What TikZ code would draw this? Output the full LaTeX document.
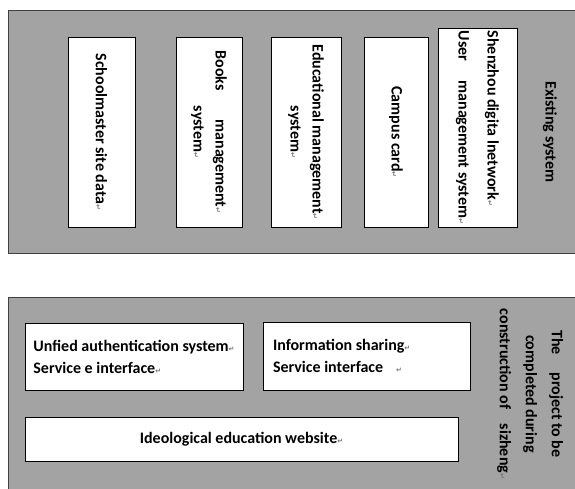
\documentclass[tikz,border=0pt]{standalone}
\usepackage{fontspec}
\setmainfont{Carlito}
\newfontfamily\symfont{DejaVu Sans}
\usetikzlibrary{positioning}
\definecolor{panelgray}{rgb}{0.64,0.64,0.64}
\definecolor{panelline}{rgb}{0.25,0.25,0.25}
\definecolor{markgray}{rgb}{0.45,0.45,0.45}
\newcommand{\parmark}{{\symfont\fontsize{7}{7}\selectfont\color{markgray}↵}}

\tikzset{
    panel/.style={draw=panelline, fill=panelgray, line width=1pt},
    sysbox/.style={draw=black, fill=white, line width=0.8pt, rotate=-90,
        inner sep=0pt, align=center, font=\bfseries\fontsize{16}{22}\selectfont},
    projbox/.style={draw=black, fill=white, line width=0.8pt,
        inner sep=0pt, font=\bfseries\fontsize{16}{22}\selectfont},
    sidelabel/.style={rotate=-90, align=center, inner sep=0pt,
        font=\bfseries\fontsize{16}{26}\selectfont}
}

\begin{document}
\begin{tikzpicture}[x=1pt, y=-1pt]
    \useasboundingbox (0,0) rectangle (575,488);
    \clip (0,0) rectangle (575,488);
    % existing system
    \draw[panel] (8,10) rectangle (590,253);
    \node[sysbox, minimum width=190, minimum height=67] (school) at (101.5,132)
        {Schoolmaster site data\parmark};
    \node[sysbox, minimum width=190, minimum height=66] (books) at (209,132)
        {Books\hspace{1.8em}management\parmark\\system\parmark};
    \node[sysbox, minimum width=190, minimum height=70] (edu) at (306,132)
        {Educational management\parmark\\system\parmark};
    \node[sysbox, minimum width=190, minimum height=64] (campus) at (396,132)
        {Campus card\parmark};
    \node[sysbox, align=flush left, minimum width=199, minimum height=79] (user) at (477.5,127.5)
        {Shenzhou digita lnetwork\parmark\\[7pt]User\hspace{1.2em}management system\parmark};
    \node[sidelabel] (existing) at (550,132) {Existing system};
    % project of sizheng
    \draw[panel] (8,297) rectangle (590,500);
    \node[projbox, minimum width=218, minimum height=67, align=flush left] (auth) at (134,356.5)
        {Unfied authentication system\parmark\\Service e interface\parmark};
    \node[projbox, minimum width=207, minimum height=68, align=flush left,
        text width=187] (share) at (366.5,356)
        {Information sharing\parmark\\Service interface\hspace{0.8em}\parmark};
    \node[projbox, minimum width=433, minimum height=44, align=center] (site) at (241.5,439)
        {Ideological education website\parmark};
    \node[sidelabel] (project) at (530,394)
        {The\hspace{1.1em}project to be\\completed during\\construction of\hspace{0.9em}sizheng\parmark};
\end{tikzpicture}
\end{document}
